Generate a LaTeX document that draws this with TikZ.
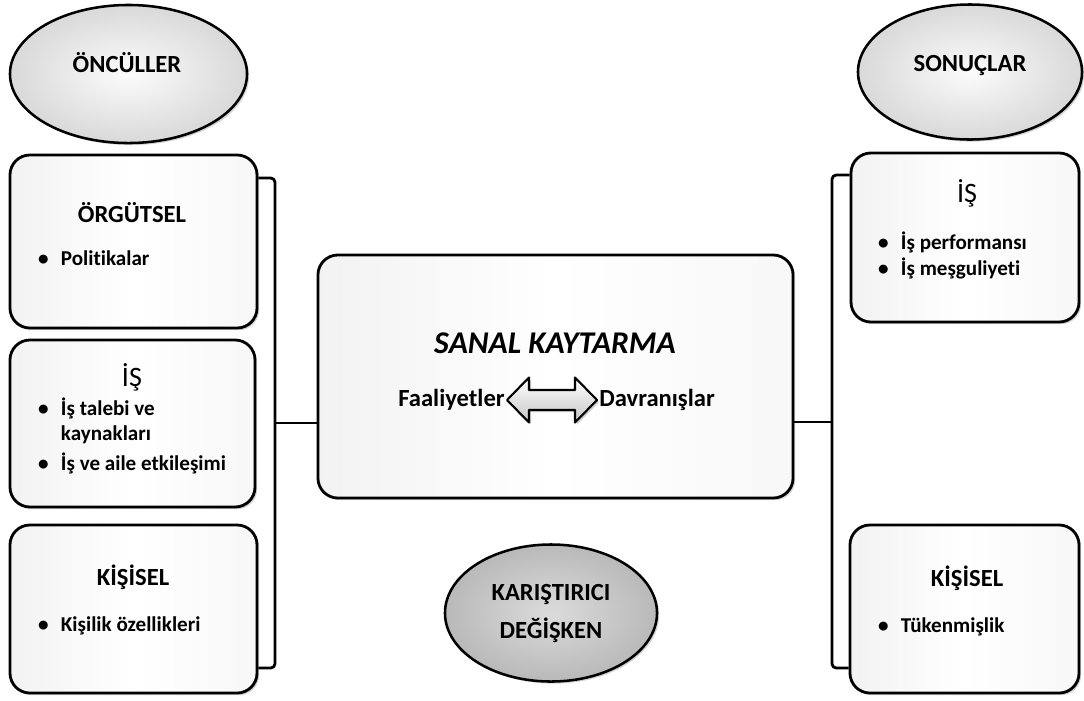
\documentclass[tikz,border=0pt]{standalone}
\usepackage{fontspec}
\setmainfont{Carlito}[Ligatures=NoCommon]
\usetikzlibrary{shapes.geometric,shadows,positioning}

\begin{document}
\begin{tikzpicture}[x=0.025cm,y=-0.025cm,line join=round,
    shade/.style={drop shadow={shadow xshift=1.5pt,shadow yshift=-1.5pt,opacity=.35}},
    box/.style={draw,line width=2pt,rounded corners=0.5cm,left color=gray!10,right color=gray!6,middle color=white,shade},
    oval/.style={ellipse,draw,line width=1.8pt,inner color=gray!3,outer color=gray!30,shade},
    heading/.style={font=\fontsize{17.5}{27}\selectfont\bfseries},
    listitem/.style={anchor=west,font=\fontsize{15}{18}\selectfont\bfseries},
    darrow/.style={draw,line width=1.5pt,top color=white,bottom color=gray!45,shade},
    link/.style={line width=2pt,rounded corners=3pt}]
  \useasboundingbox (0,0) rectangle (1084,700);
  % ellipses
  \node[oval,minimum width=5.925cm,minimum height=3.45cm] (oncul) at (128.5,74) {};
  \node[heading] at (127,63) {ÖNCÜLLER};
  \node[oval,minimum width=5.6cm,minimum height=3.375cm] (sonuc) at (970,72) {};
  \node[heading] at (970,65) {SONUÇLAR};
  \node[oval,inner color=gray!28,outer color=gray!55,minimum width=5.3cm,minimum height=3.425cm,
        heading,align=center] (karis) at (551,613) {KARIŞTIRICI\\DEĞİŞKEN};
  % left boxes
  \node[box,minimum width=6.175cm,minimum height=4.325cm] (org) at (133.5,241.5) {};
  \node[heading] at (132,213) {ÖRGÜTSEL};
  \node[listitem] at (56,258) {\llap{\textbullet\hspace{8.7pt}}Politikalar};
  \node[box,minimum width=6.125cm,minimum height=4.175cm] (isL) at (132.5,423.5) {};
  \node[font=\fontsize{20}{22}\selectfont] at (132,377) {İŞ};
  \node[listitem] at (56,408) {\llap{\textbullet\hspace{8.7pt}}İş talebi ve};
  \node[listitem] at (56,435) {kaynakları};
  \node[listitem] at (56,463) {\llap{\textbullet\hspace{8.7pt}}İş ve aile etkileşimi};
  \node[box,minimum width=6.175cm,minimum height=4.2cm] (kisL) at (133.5,609) {};
  \node[heading] at (133,577) {KİŞİSEL};
  \node[listitem] at (56,626) {\llap{\textbullet\hspace{8.7pt}}Kişilik özellikleri};
  % centre
  \node[box,minimum width=11.875cm,minimum height=6.075cm] (sanal) at (555.5,376.5) {};
  \node[font=\fontsize{22.5}{26}\selectfont\bfseries\itshape] at (555,343) {SANAL KAYTARMA};
  \coordinate (arL) at (507,400);
  \coordinate (arR) at (597,400);
  \draw[darrow] (arL) -- (529,377.5) -- (529,390) -- (575,390) -- (575,377.5) -- (arR)
    -- (575,422.5) -- (575,410) -- (529,410) -- (529,422.5) -- cycle;
  \node[heading,inner sep=1.5pt,left=0pt of arL] {Faaliyetler};
  \node[heading,inner sep=1.5pt,right=0pt of arR] {Davranışlar};
  % right boxes
  \node[box,minimum width=5.7cm,minimum height=4.225cm] (isR) at (965,237.5) {};
  \node[font=\fontsize{20}{22}\selectfont] at (967,193) {İŞ};
  \node[listitem] at (896,242) {\llap{\textbullet\hspace{8.7pt}}İş performansı};
  \node[listitem] at (896,268) {\llap{\textbullet\hspace{8.7pt}}İş meşguliyeti};
  \node[box,minimum width=5.725cm,minimum height=4.2cm] (kisR) at (964.5,609) {};
  \node[heading] at (967,578) {KİŞİSEL};
  \node[listitem] at (896,627) {\llap{\textbullet\hspace{8.7pt}}Tükenmişlik};
  % brackets
  \coordinate (lt) at (275,178);
  \coordinate (lb) at (275,668);
  \coordinate (lm) at (275,423);
  \coordinate (rt) at (832,175);
  \coordinate (rb) at (832,668);
  \coordinate (rm) at (832,422);
  \draw[link] (org.east |- lt) -- (lt) -- (lb) -- (kisL.east |- lb);
  \draw[link] (lm) -- (lm -| sanal.west);
  \draw[link] (isR.west |- rt) -- (rt) -- (rb) -- (kisR.west |- rb);
  \draw[link] (rm) -- (rm -| sanal.east);
\end{tikzpicture}
\end{document}
